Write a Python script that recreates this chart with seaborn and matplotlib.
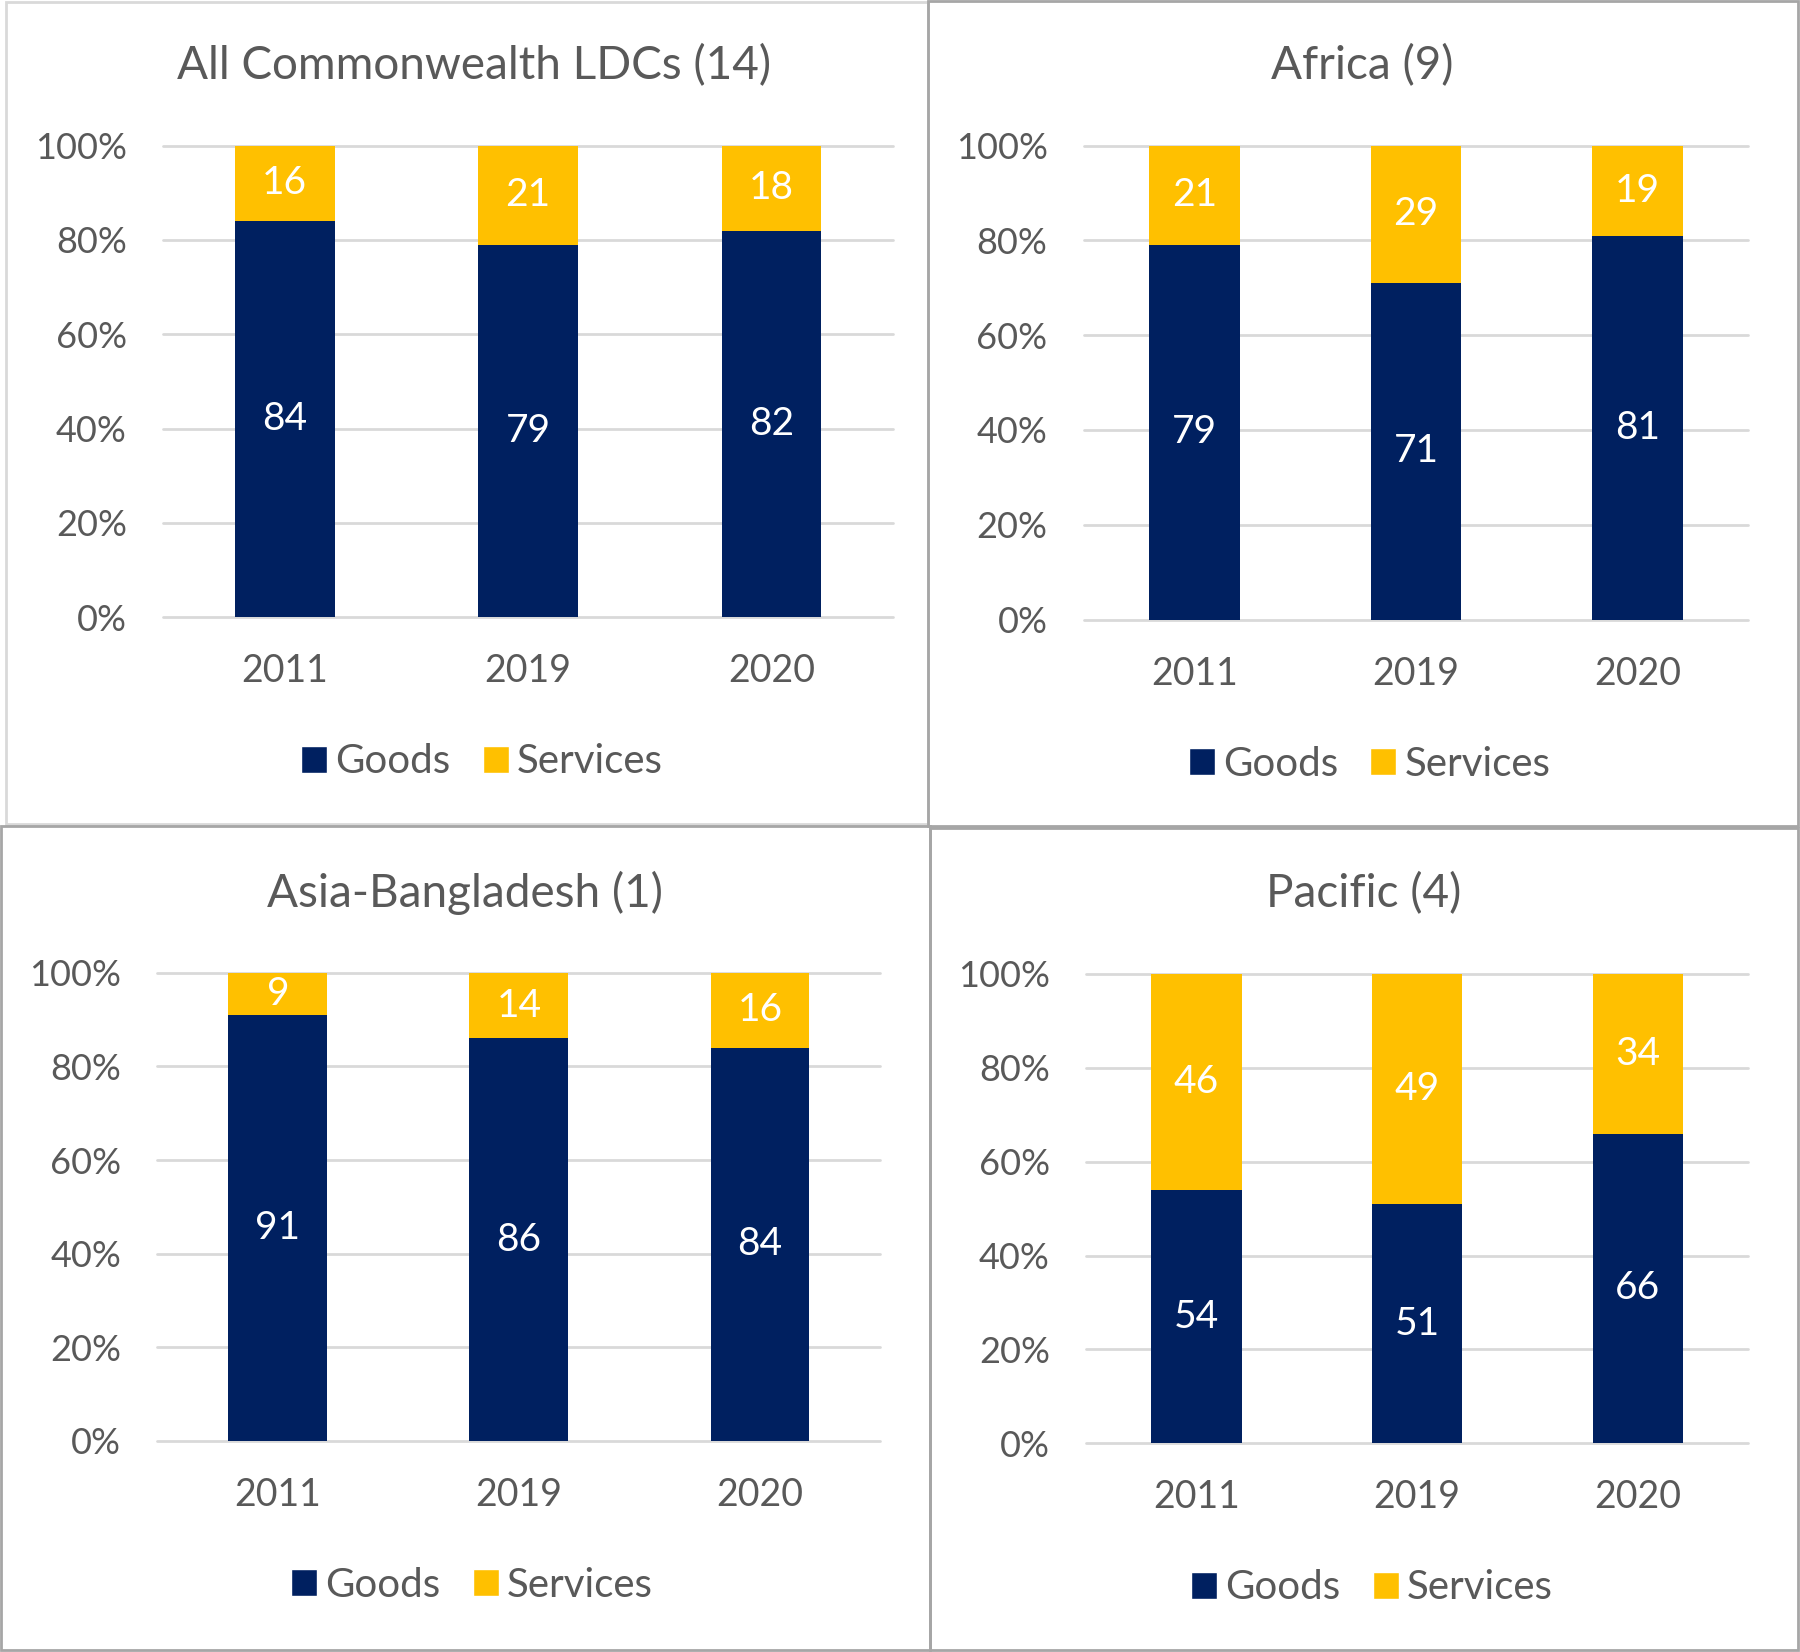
import matplotlib
matplotlib.use("Agg")
import matplotlib.pyplot as plt
from matplotlib.patches import Patch, Rectangle
import pandas as pd
import seaborn as sns

# ---------------------------------------------------------------
# Data (shares of exports, %)
# ---------------------------------------------------------------
YEARS = ["2011", "2019", "2020"]
TITLES = ["All Commonwealth LDCs (14)", "Africa (9)", "Asia-Bangladesh (1)", "Pacific (4)"]

GOODS_ALL = [84, 79, 82]
SERVICES_ALL = [16, 21, 18]
GOODS_AFRICA = [79, 71, 81]
SERVICES_AFRICA = [21, 29, 19]
GOODS_ASIA = [91, 86, 84]
SERVICES_ASIA = [9, 14, 16]
GOODS_PACIFIC = [54, 51, 66]
SERVICES_PACIFIC = [46, 49, 34]

GOODS = [GOODS_ALL, GOODS_AFRICA, GOODS_ASIA, GOODS_PACIFIC]
SERVICES = [SERVICES_ALL, SERVICES_AFRICA, SERVICES_ASIA, SERVICES_PACIFIC]

NAVY = "#002060"
YELLOW = "#FFC000"
TXT = "#595959"
GRID = "#D9D9D9"

sns.set_theme(style="white")
plt.rcParams["font.family"] = ["Lato", "DejaVu Sans"]

# layout in reference pixel units (1568 x 1440)
W, H = 1568.0, 1440.0
# box, axes (x0, y0, x1, y1), title (x, y), legend (x, y), border colour
LAYOUT = [
    ((5, 2, 808, 718), (142, 127, 778, 538), (413, 57), (420, 664), "#D9D9D9"),
    ((808, 1, 1566, 720), (944, 127, 1523, 540), (1187, 57), (1193, 666), "#A6A6A6"),
    ((1, 720, 810, 1438), (137, 848, 767, 1256), (405, 778), (411, 1382), "#A6A6A6"),
    ((810, 722, 1566, 1438), (946, 849, 1523, 1258), (1188, 779), (1195, 1384), "#A6A6A6"),
]

fig = plt.figure(figsize=(18, 16.52), dpi=100)
fig.patch.set_facecolor("white")


def fx(x):
    return x / W


def fy(y):
    return 1 - y / H


for i, (box, axr, tpos, lpos, bcol) in enumerate(LAYOUT):
    # panel frame
    bx0, by0, bx1, by1 = box
    fig.patches.append(
        Rectangle((fx(bx0), fy(by1)), (bx1 - bx0) / W, (by1 - by0) / H,
                  transform=fig.transFigure, fill=False, edgecolor=bcol, linewidth=2)
    )

    x0, y0, x1, y1 = axr
    ax = fig.add_axes([fx(x0), fy(y1), (x1 - x0) / W, (y1 - y0) / H])

    df = pd.DataFrame({"year": YEARS, "goods": GOODS[i], "services": SERVICES[i]})
    df["total"] = df["goods"] + df["services"]

    sns.barplot(data=df, x="year", y="total", color=YELLOW, saturation=1,
                width=0.41, linewidth=0, ax=ax)
    sns.barplot(data=df, x="year", y="goods", color=NAVY, saturation=1,
                width=0.41, linewidth=0, ax=ax)

    for j, row in df.iterrows():
        ax.text(j, row["goods"] / 2, str(row["goods"]), ha="center", va="center",
                color="white", fontsize=28)
        ax.text(j, row["goods"] + row["services"] / 2, str(row["services"]),
                ha="center", va="center", color="white", fontsize=28)

    ax.set_xlim(-0.5, 2.5)
    ax.set_ylim(0, 100)
    ax.set_yticks([0, 20, 40, 60, 80, 100])
    ax.set_yticklabels([f"{v}%" for v in [0, 20, 40, 60, 80, 100]])
    ax.set_xlabel("")
    ax.set_ylabel("")
    ax.tick_params(axis="y", length=0, pad=26, labelsize=26, labelcolor=TXT)
    ax.tick_params(axis="x", length=0, pad=26, labelsize=27, labelcolor=TXT)
    for s in ax.spines.values():
        s.set_visible(False)
    ax.yaxis.grid(True, color=GRID, linewidth=2)
    ax.set_axisbelow(True)
    for gl in ax.get_ygridlines():
        gl.set_clip_on(False)

    fig.text(fx(tpos[0]), fy(tpos[1]), TITLES[i], ha="center", va="center",
             fontsize=33, color=TXT)

    handles = [Patch(facecolor=NAVY, label="Goods"), Patch(facecolor=YELLOW, label="Services")]
    fig.legend(handles=handles, loc="center", bbox_to_anchor=(fx(lpos[0]), fy(lpos[1])),
               ncol=2, frameon=False, fontsize=29, labelcolor=TXT,
               handlelength=0.65, handleheight=0.65, handletextpad=0.2,
               columnspacing=0.8)

fig.savefig("out.png", dpi=100, facecolor="white")
